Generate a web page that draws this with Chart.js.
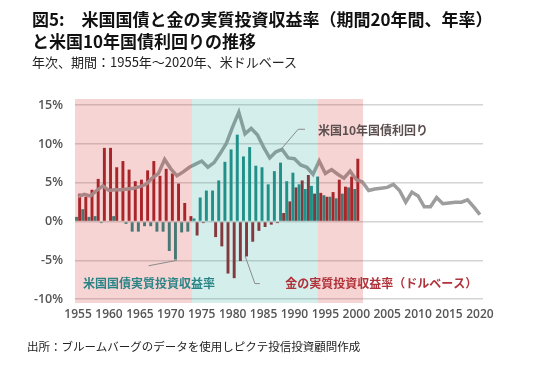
<!DOCTYPE html>
<html>
<head>
<meta charset="utf-8">
<script src="https://cdn.jsdelivr.net/npm/chart.js@4.4.1/dist/chart.umd.min.js"></script>
<style>
  body { margin: 0; background: #fff; }
  #wrap { position: relative; width: 550px; height: 368px; overflow: hidden; font-family: "Noto Sans CJK JP", sans-serif; }
  #chart { position: absolute; left: 0; top: 0; }
  .title { position: absolute; left: 32px; top: 8px; font-size: 17px; font-weight: bold; line-height: 22px; color: #111; }
  .sub { position: absolute; left: 32px; top: 52px; font-size: 13px; color: #222; }
  .source { position: absolute; left: 27px; top: 338px; font-size: 11.5px; color: #222; }
</style>
</head>
<body>
<div id="wrap">
  <canvas id="chart" width="550" height="368"></canvas>
  <div class="title">図5:　米国国債と金の実質投資収益率（期間20年間、年率）<br>と米国10年国債利回りの推移</div>
  <div class="sub">年次、期間：1955年～2020年、米ドルベース</div>
  <div class="source">出所：ブルームバーグのデータを使用しピクテ投信投資顧問作成</div>
</div>
<script>
// 年 (1955〜2020)
const years = [];
for (let y = 1955; y <= 2020; y++) years.push(String(y));

// 米国国債の実質投資収益率 (20年間, 年率) 1955〜2000
const treasuryReturn = [
  0.6, 1.6, 0.6, 0.7, -0.2, 0.0, 0.7, 0.0, -0.3, -1.3,
  -1.3, -0.6, -0.6, -1.3, -1.3, -3.8, -4.9, -1.4, -1.3, 0.4,
  3.1, 4.0, 4.0, 5.3, 7.7, 9.3, 11.2, 8.4, 9.6, 7.2,
  7.0, 4.8, 6.5, 7.6, 5.2, 6.3, 4.8, 4.2, 4.6, 5.8,
  3.4, 3.2, 3.0, 3.6, 4.4, 4.2
];

// 金の実質投資収益率 (ドルベース) 1955〜2000
const goldReturn = [
  3.6, 3.2, 4.1, 5.5, 9.5, 9.5, 7.0, 7.8, 6.7, 5.2,
  5.4, 6.6, 7.8, 5.9, 6.8, 6.2, 4.9, 2.4, 0.7, -1.8,
  -0.2, -0.1, -2.0, -3.2, -6.7, -7.3, -5.1, -4.5, -2.6, -1.2,
  -0.7, -0.4, -0.2, 1.1, 2.6, 4.4, 5.3, 6.0, 3.6, 3.7,
  3.2, 3.8, 5.4, 4.5, 5.8, 8.1
];

// 米国10年国債利回り 1955〜2020
const yield10y = [
  3.2, 3.5, 3.3, 4.0, 4.6, 4.0, 4.1, 4.1, 4.2, 4.3,
  4.5, 4.8, 5.6, 6.2, 8.0, 6.8, 5.9, 6.4, 7.0, 7.4,
  7.8, 7.0, 7.6, 8.8, 10.1, 12.2, 14.1, 11.3, 12.0, 11.2,
  9.6, 8.2, 9.0, 9.3, 8.2, 8.1, 7.3, 7.0, 6.1, 7.8,
  6.2, 6.7, 6.1, 5.6, 6.5, 5.4, 5.1, 4.0, 4.2, 4.3,
  4.4, 4.8, 4.0, 2.5, 3.8, 3.3, 1.9, 1.9, 3.1, 2.3,
  2.4, 2.5, 2.5, 2.8, 1.9, 0.9
];

const yTicks = [-10, -5, 0, 5, 10, 15];

// 背景の期間帯 (年)
const bandFrom = [1954.5, 1973.4, 1993.8];
const bandTo   = [1973.4, 1993.8, 2001.1];
const bandColor = ['rgba(220,60,60,0.22)', 'rgba(40,170,160,0.2)', 'rgba(220,60,60,0.22)'];

// 注記 (年, %)
const notes = [
  { text: '米国10年国債利回り', x: 1993.8, y: 11.7, color: '#5c4f4f',
    path: [[1987.7, 9.2], [1990.6, 11.9], [1991.7, 11.9]] },
  { text: '米国国債実質投資収益率', x: 1955.8, y: -8.0, color: '#2a8486',
    path: [[1966.4, -5.7], [1971.0, -5.0]] },
  { text: '金の実質投資収益率（ドルベース）', x: 1988.5, y: -8.0, color: '#b0323a',
    path: [[1982.0, -4.4], [1983.6, -8.0], [1984.4, -8.0]] }
];

const yearPx = (scale, yr) => scale.getPixelForValue(yr - 1955);

const bandPlugin = {
  id: 'bands',
  afterDatasetsDraw(chart) {
    const { ctx, chartArea, scales } = chart;
    ctx.save();
    bandFrom.forEach((f, i) => {
      const x0 = yearPx(scales.x, f), x1 = yearPx(scales.x, bandTo[i]);
      ctx.fillStyle = bandColor[i];
      ctx.fillRect(x0, chartArea.top, x1 - x0, chartArea.bottom - chartArea.top);
    });
    ctx.restore();
  }
};

const notePlugin = {
  id: 'notes',
  afterDraw(chart) {
    const { ctx, scales } = chart;
    ctx.save();
    notes.forEach(n => {
      ctx.strokeStyle = '#8a8a8a';
      ctx.lineWidth = 1;
      ctx.beginPath();
      n.path.forEach((p, i) => {
        const px = yearPx(scales.x, p[0]), py = scales.y.getPixelForValue(p[1]);
        if (i === 0) ctx.moveTo(px, py); else ctx.lineTo(px, py);
      });
      ctx.stroke();
      ctx.fillStyle = n.color;
      ctx.font = 'bold 12px "Noto Sans CJK JP"';
      ctx.textBaseline = 'middle';
      ctx.fillText(n.text, yearPx(scales.x, n.x), scales.y.getPixelForValue(n.y));
    });
    ctx.restore();
  }
};

new Chart(document.getElementById('chart'), {
  type: 'bar',
  data: {
    labels: years,
    datasets: [
      {
        type: 'line',
        label: '米国10年国債利回り',
        data: yield10y,
        borderColor: '#9d9d9d',
        borderWidth: 3.5,
        pointRadius: 0,
        tension: 0,
        order: 0
      },
      {
        label: '米国国債実質投資収益率',
        data: treasuryReturn,
        backgroundColor: '#1f8a84',
        categoryPercentage: 1.0,
        barPercentage: 0.95,
        order: 1
      },
      {
        label: '金の実質投資収益率',
        data: goldReturn,
        backgroundColor: '#9a1f26',
        categoryPercentage: 1.0,
        barPercentage: 0.95,
        order: 2
      }
    ]
  },
  options: {
    responsive: false,
    animation: false,
    layout: { padding: { top: 99, right: 67, bottom: 45, left: 0 } },
    plugins: {
      legend: { display: false },
      tooltip: { enabled: false }
    },
    scales: {
      x: {
        offset: true,
        grid: { display: false, drawTicks: false },
        border: { display: false },
        afterFit: s => { s.height = 20; },
        ticks: {
          autoSkip: false,
          maxRotation: 0,
          padding: 4,
          color: '#555',
          font: { family: "'Open Sans', sans-serif", size: 12, weight: '600' },
          callback: function(v) {
            const y = Number(this.getLabelForValue(v));
            return y % 5 === 0 ? String(y) : '';
          }
        }
      },
      y: {
        min: -10.5,
        max: 15.8,
        afterBuildTicks: s => { s.ticks = yTicks.map(v => ({ value: v })); },
        afterFit: s => { s.width = 75; },
        grid: { color: '#d4d4d4', lineWidth: 1.5, drawTicks: false },
        border: { display: false },
        ticks: {
          padding: 12,
          color: '#555',
          font: { family: "'Open Sans', sans-serif", size: 12.5, weight: '600' },
          callback: v => v + '%'
        }
      }
    }
  },
  plugins: [bandPlugin, notePlugin]
});
</script>
</body>
</html>
